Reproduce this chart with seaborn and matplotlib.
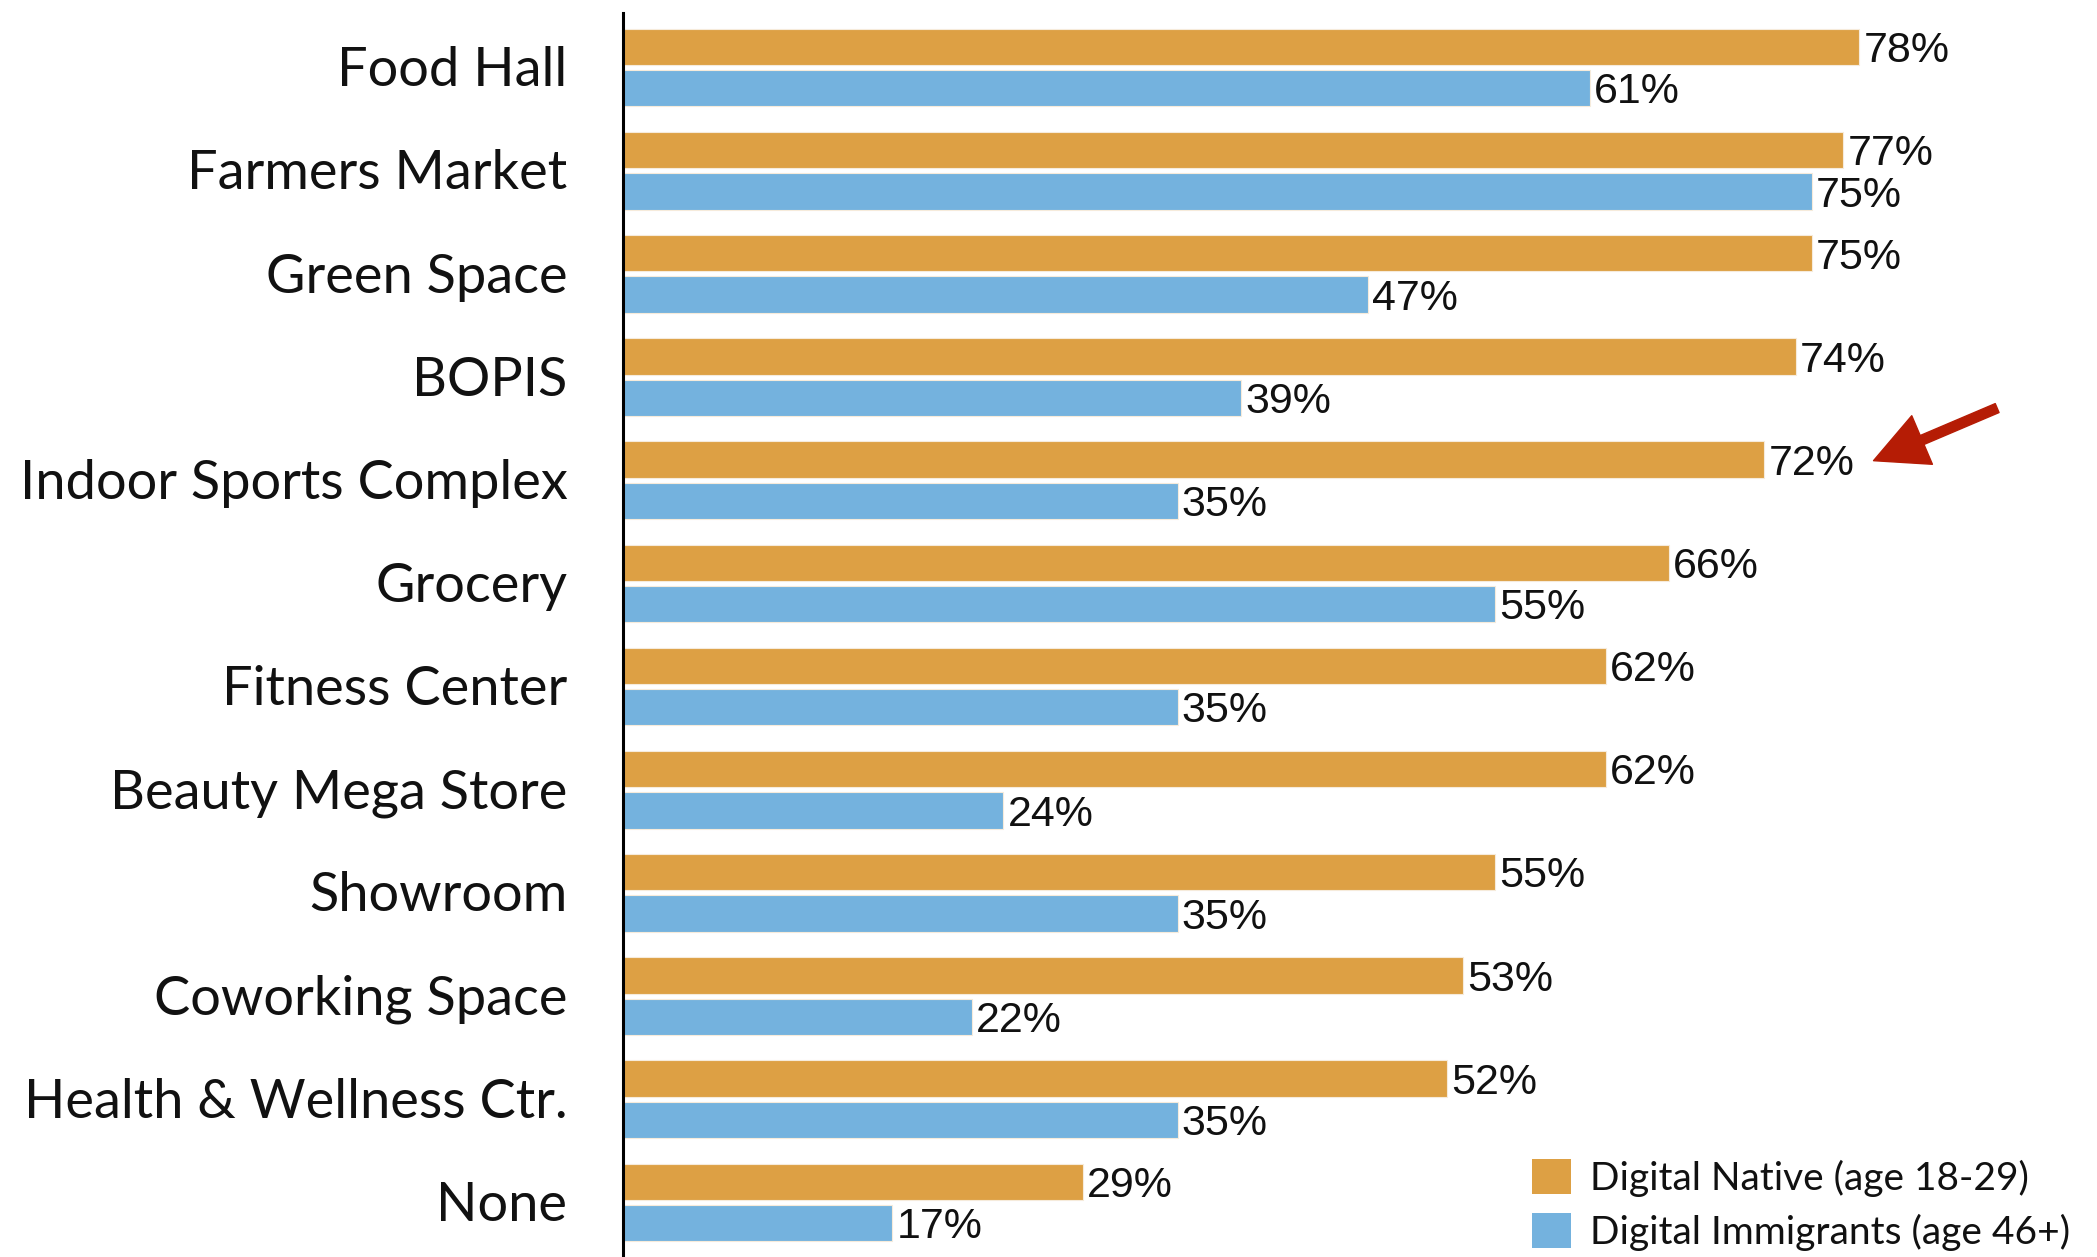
import matplotlib
matplotlib.use("Agg")
import matplotlib.pyplot as plt
import matplotlib.transforms as mtransforms
from matplotlib.patches import Patch
import seaborn as sns
import pandas as pd

categories = ["Food Hall", "Farmers Market", "Green Space", "BOPIS",
              "Indoor Sports Complex", "Grocery", "Fitness Center",
              "Beauty Mega Store", "Showroom", "Coworking Space",
              "Health & Wellness Ctr.", "None"]
digital_native = [78, 77, 75, 74, 72, 66, 62, 62, 55, 53, 52, 29]
digital_immigrants = [61, 75, 47, 39, 35, 55, 35, 24, 35, 22, 35, 17]
series_names = ["Digital Native (age 18-29)", "Digital Immigrants (age 46+)"]
series_colors = ["#DDA044", "#74B2DE"]

df = pd.DataFrame({
    "category": categories * 2,
    "value": digital_native + digital_immigrants,
    "group": [series_names[0]] * len(categories) + [series_names[1]] * len(categories),
})

sns.set_style("white")
plt.rcParams["font.family"] = ["Lato", "DejaVu Sans"]

W, H = 2097, 1257
fig = plt.figure(figsize=(W / 100, H / 100), dpi=100)
ax_left = 623 / W
ax = fig.add_axes([ax_left, 0, 1 - ax_left, 1 - 13 / H])

sns.barplot(data=df, x="value", y="category", hue="group", orient="h",
            palette=series_colors, hue_order=series_names, order=categories,
            saturation=1, width=0.8, gap=0.12, edgecolor="#F6EBDB",
            linewidth=0.8, legend=False, ax=ax)

ax.set_xlim(0, 93)
ax.set_ylim(len(categories) - 0.47, -0.53)

for cont in ax.containers:
    anns = ax.bar_label(cont, fmt="%g%%", padding=3, fontsize=31,
                        family=["Liberation Sans", "DejaVu Sans"],
                        color="#111111")
    for a in anns:
        a.xyann = (3, -3)

ax.set_xlabel("")
ax.set_ylabel("")
ax.set_xticks([])
ax.tick_params(axis="y", length=0, pad=40, labelsize=39, labelcolor="#111111")
shift = mtransforms.ScaledTranslation(0, 1 / 72, fig.dpi_scale_trans)
for lbl in ax.get_yticklabels():
    lbl.set_transform(lbl.get_transform() + shift)
for s in ["top", "right", "bottom"]:
    ax.spines[s].set_visible(False)
ax.spines["left"].set_color("black")
ax.spines["left"].set_linewidth(2.2)

# Call-out arrow pointing at the Indoor Sports Complex value
idx = categories.index("Indoor Sports Complex")
tip_x = digital_native[idx] + 6.9
ax.annotate("", xy=(tip_x, idx - 0.19), xytext=(tip_x + 7.8, idx - 0.70),
            arrowprops=dict(arrowstyle="simple,head_length=1.9,head_width=1.9,tail_width=0.35",
                            color="#B51C05", mutation_scale=20, shrinkA=0, shrinkB=0))

handles = [Patch(facecolor=c, edgecolor="none") for c in series_colors]
fig.legend(handles, series_names, loc="lower left",
           bbox_to_anchor=(1528 / W, 0.002), frameon=False, fontsize=28,
           labelcolor="#111111",
           handlelength=1.0, handleheight=1.0, handletextpad=0.5,
           labelspacing=0.42, borderpad=0.1, borderaxespad=0)

fig.savefig("out.png", dpi=100, facecolor="white")
